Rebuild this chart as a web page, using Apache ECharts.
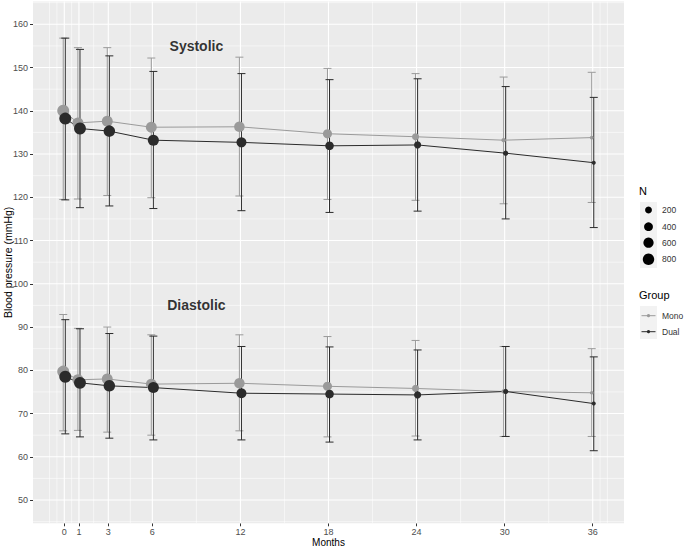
<!DOCTYPE html>
<html>
<head>
<meta charset="utf-8">
<title>Blood pressure by months</title>
<script src="https://cdn.jsdelivr.net/npm/echarts@6/dist/echarts.min.js"></script>
<style>
	html, body { margin: 0; padding: 0; background: #fff; }
	#chart { width: 685px; height: 549px; }
</style>
</head>
<body>
<div id="chart"></div>
<script>
	"use strict";

	// ______________ DATA
	const months = [0, 1, 3, 6, 12, 18, 24, 30, 36];
	const yTicks = [50, 60, 70, 80, 90, 100, 110, 120, 130, 140, 150, 160];
	const sizeBreaks = [200, 400, 600, 800];

	// patients per visit
	const monoN = [900, 720, 700, 690, 640, 430, 220, 60, 45];
	const dualN = [900, 880, 810, 720, 560, 370, 220, 90, 50];

	// systolic, mean and whisker ends
	const sysMono = [140.0, 137.2, 137.6, 136.2, 136.3, 134.7, 134.0, 133.2, 133.8];
	const sysMonoLo = [119.5, 119.6, 120.4, 119.9, 120.3, 119.5, 119.3, 118.5, 118.8];
	const sysMonoHi = [156.8, 154.6, 154.6, 152.2, 152.4, 149.8, 148.6, 147.8, 148.9];
	const sysDual = [138.2, 135.9, 135.3, 133.2, 132.7, 131.9, 132.1, 130.2, 128.0];
	const sysDualLo = [119.4, 117.6, 118.0, 117.4, 116.9, 116.5, 116.8, 115.0, 113.0];
	const sysDualHi = [156.8, 154.2, 152.7, 149.1, 148.6, 147.2, 147.4, 145.6, 143.1];

	// diastolic
	const diaMono = [79.7, 77.8, 78.0, 76.8, 77.0, 76.3, 75.8, 75.1, 74.8];
	const diaMonoLo = [66.0, 66.1, 65.7, 65.0, 66.0, 64.6, 64.8, 64.7, 64.7];
	const diaMonoHi = [92.9, 89.7, 90.0, 88.2, 88.2, 87.8, 86.9, 85.5, 85.0];
	const diaDual = [78.5, 77.1, 76.4, 76.0, 74.7, 74.5, 74.3, 75.1, 72.3];
	const diaDualLo = [65.3, 64.6, 64.3, 63.9, 63.9, 63.4, 63.9, 64.7, 61.4];
	const diaDualHi = [91.7, 89.6, 88.5, 87.9, 85.5, 85.4, 84.7, 85.5, 83.1];

	// panel gridlines (ggplot style: major + minor)
	const xMinor = [-1, -0.5, 0.5, 2, 4.5, 9, 15, 21, 27, 33, 36.5, 37];
	const yMinor = [45, 55, 65, 75, 85, 95, 105, 115, 125, 135, 145, 155, 165];

	// ______________ STYLE
	const FONT = '"Liberation Sans", Arial, sans-serif';
	const MONO = '#9a9a9a';
	const DUAL = '#2b2b2b';
	const DODGE = 0.07;

	function pointSize(n) {
		var t = Math.max(0, (n - 40) / (900 - 40));
		return 3 + 9 * Math.sqrt(t);
	}

	function points(vals, ns, shift) {
		return months.map(function(m, i) { return [m + shift, vals[i], ns[i]]; });
	}

	function bars(lo, hi, shift) {
		return months.map(function(m, i) { return [m + shift, lo[i], hi[i]]; });
	}

	// ______________ ERROR BARS
	function errorBar(color) {
		return function(params, api) {
			var x = api.value(0);
			var lo = api.coord([x, api.value(1)]);
			var hi = api.coord([x, api.value(2)]);
			var w = 4;
			var style = { stroke: color, lineWidth: 1, fill: null };
			return {
				type: 'group',
				children: [
					{ type: 'line', shape: { x1: hi[0], y1: hi[1], x2: lo[0], y2: lo[1] }, style: style },
					{ type: 'line', shape: { x1: hi[0] - w, y1: hi[1], x2: hi[0] + w, y2: hi[1] }, style: style },
					{ type: 'line', shape: { x1: lo[0] - w, y1: lo[1], x2: lo[0] + w, y2: lo[1] }, style: style }
				]
			};
		};
	}

	// ______________ GRID LINES
	function gridLine(params, api) {
		var cs = params.coordSys;
		var dir = api.value(0);
		var v = api.value(1);
		var width = api.value(2) ? 1.1 : 0.55;
		var style = { stroke: '#ffffff', lineWidth: width };
		if (dir === 0) {
			var px = api.coord([v, 100])[0];
			return { type: 'line', shape: { x1: px, y1: cs.y, x2: px, y2: cs.y + cs.height }, style: style };
		}
		var py = api.coord([0, v])[1];
		return { type: 'line', shape: { x1: cs.x, y1: py, x2: cs.x + cs.width, y2: py }, style: style };
	}

	var gridData = [];
	xMinor.forEach(function(v) { gridData.push([0, v, 0]); });
	yMinor.forEach(function(v) { gridData.push([1, v, 0]); });
	months.forEach(function(v) { gridData.push([0, v, 1]); });
	yTicks.forEach(function(v) { gridData.push([1, v, 1]); });

	function lineSeries(vals, shift, color) {
		return {
			type: 'line',
			data: points(vals, months, shift),
			showSymbol: false,
			lineStyle: { color: color, width: 1 },
			silent: true,
			animation: false,
			z: 3
		};
	}

	function pointSeries(vals, ns, shift, color, z) {
		return {
			type: 'scatter',
			data: points(vals, ns, shift),
			symbol: 'circle',
			symbolSize: function(d) { return pointSize(d[2]); },
			itemStyle: { color: color, opacity: 1 },
			silent: true,
			animation: false,
			z: z
		};
	}

	function barSeries(lo, hi, shift, color) {
		return {
			type: 'custom',
			renderItem: errorBar(color),
			data: bars(lo, hi, shift),
			encode: { x: 0, y: [1, 2] },
			silent: true,
			animation: false,
			z: 2
		};
	}

	function panelLabel(x, y, text) {
		return {
			type: 'scatter',
			data: [[x, y]],
			symbolSize: 0,
			silent: true,
			animation: false,
			label: {
				show: true, position: 'inside', formatter: text,
				fontFamily: FONT, fontWeight: 'bold', fontSize: 14, color: '#000'
			},
			z: 6
		};
	}

	// ______________ LEGENDS (drawn next to the panel)
	var legend = [];
	legend.push({ type: 'text', left: 639, top: 185, style: { text: 'N', font: '11px ' + FONT, fill: '#000' } });
	legend.push({ type: 'rect', shape: { x: 640, y: 202, width: 17, height: 66 }, style: { fill: '#f2f2f2' } });
	var sizeY = [210, 226.7, 242.7, 259.3];
	sizeBreaks.forEach(function(n, i) {
		legend.push({ type: 'circle', shape: { cx: 648.5, cy: sizeY[i], r: pointSize(n) / 2 }, style: { fill: '#000' } });
		legend.push({ type: 'text', x: 662, y: sizeY[i], style: { text: String(n), font: '8.5px ' + FONT, fill: '#333', verticalAlign: 'middle' } });
	});
	legend.push({ type: 'text', left: 639, top: 289, style: { text: 'Group', font: '11px ' + FONT, fill: '#000' } });
	legend.push({ type: 'rect', shape: { x: 640, y: 306, width: 17, height: 33 }, style: { fill: '#f2f2f2' } });
	[['Mono', MONO, 315.7], ['Dual', DUAL, 331.7]].forEach(function(g) {
		legend.push({ type: 'line', shape: { x1: 641.5, y1: g[2], x2: 655.5, y2: g[2] }, style: { stroke: g[1], lineWidth: 1 } });
		legend.push({ type: 'circle', shape: { cx: 648.5, cy: g[2], r: 1.6 }, style: { fill: g[1] } });
		legend.push({ type: 'text', x: 662, y: g[2], style: { text: g[0], font: '8.5px ' + FONT, fill: '#333', verticalAlign: 'middle' } });
	});

	// ______________ CHART
	var chart = echarts.init(document.getElementById('chart'), null, { renderer: 'svg' });
	chart.setOption({
		animation: false,
		backgroundColor: '#ffffff',
		textStyle: { fontFamily: FONT },
		grid: {
			left: 33, right: 61, top: 1.5, bottom: 25.7,
			outerBoundsMode: 'none',
			containLabel: false,
			show: true, backgroundColor: '#ebebeb', borderWidth: 0
		},
		xAxis: {
			type: 'value',
			min: -2.13,
			max: 38.13,
			name: 'Months',
			nameLocation: 'middle',
			nameGap: 19,
			nameMoveOverlap: false,
			nameTextStyle: { fontFamily: FONT, fontSize: 10, color: '#000', verticalAlign: 'middle' },
			axisLine: { show: false, onZero: false },
			splitLine: { show: false },
			axisTick: { show: true, customValues: months, length: 3, lineStyle: { color: '#333', width: 1 } },
			axisLabel: { customValues: months, margin: 4, fontFamily: FONT, fontSize: 9, color: '#4d4d4d' }
		},
		yAxis: {
			type: 'value',
			min: 44.62,
			max: 165.27,
			name: 'Blood pressure (mmHg)',
			nameLocation: 'middle',
			nameGap: 25,
			nameMoveOverlap: false,
			nameTextStyle: { fontFamily: FONT, fontSize: 10.5, color: '#000', verticalAlign: 'middle' },
			axisLine: { show: false, onZero: false },
			splitLine: { show: false },
			axisTick: { show: true, customValues: yTicks, length: 3, lineStyle: { color: '#333', width: 1 } },
			axisLabel: { customValues: yTicks, margin: 5, fontFamily: FONT, fontSize: 9, color: '#4d4d4d' }
		},
		series: [
			{
				type: 'custom',
				renderItem: gridLine,
				data: gridData,
				encode: { x: -1, y: -1 },
				silent: true,
				animation: false,
				z: 1
			},
			barSeries(sysMonoLo, sysMonoHi, -DODGE, MONO),
			barSeries(sysDualLo, sysDualHi, DODGE, DUAL),
			barSeries(diaMonoLo, diaMonoHi, -DODGE, MONO),
			barSeries(diaDualLo, diaDualHi, DODGE, DUAL),
			lineSeries(sysMono, -DODGE, MONO),
			lineSeries(sysDual, DODGE, DUAL),
			lineSeries(diaMono, -DODGE, MONO),
			lineSeries(diaDual, DODGE, DUAL),
			pointSeries(sysMono, monoN, -DODGE, MONO, 4),
			pointSeries(sysDual, dualN, DODGE, DUAL, 5),
			pointSeries(diaMono, monoN, -DODGE, MONO, 4),
			pointSeries(diaDual, dualN, DODGE, DUAL, 5),
			panelLabel(9, 155, 'Systolic'),
			panelLabel(9, 95, 'Diastolic')
		],
		graphic: legend
	});
</script>
</body>
</html>
